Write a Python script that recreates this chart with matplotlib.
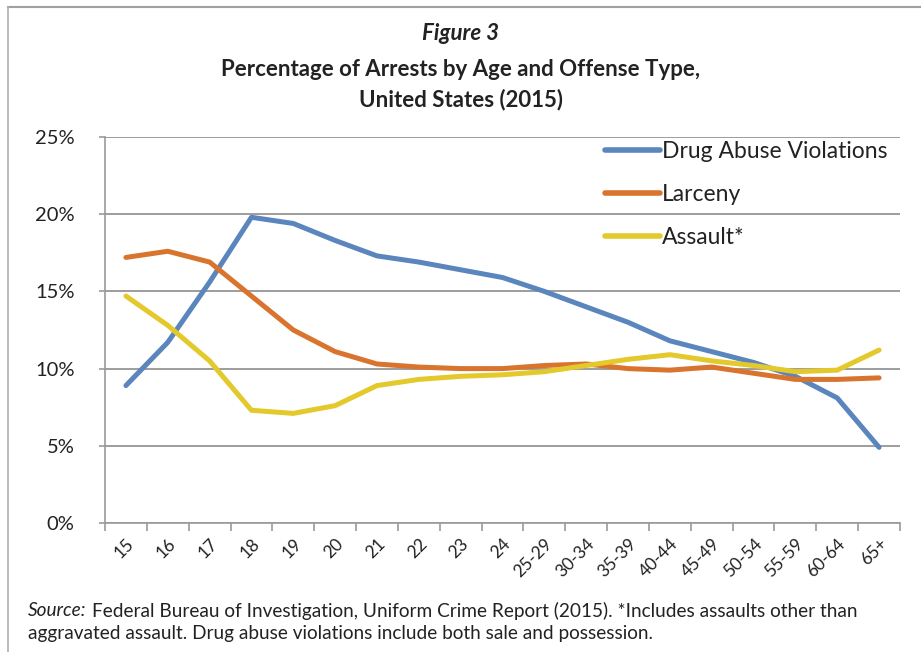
import matplotlib
matplotlib.use("Agg")
import matplotlib.pyplot as plt
from matplotlib.ticker import FuncFormatter, FixedLocator
from matplotlib.lines import Line2D

plt.rcParams['font.family'] = ['Lato', 'DejaVu Sans']

categories = ["15", "16", "17", "18", "19", "20", "21", "22", "23", "24",
              "25-29", "30-34", "35-39", "40-44", "45-49", "50-54", "55-59", "60-64", "65+"]
drug = [8.9, 11.7, 15.6, 19.8, 19.4, 18.3, 17.3, 16.9, 16.4, 15.9,
        15.0, 14.0, 13.0, 11.8, 11.1, 10.4, 9.5, 8.1, 4.9]
larceny = [17.2, 17.6, 16.9, 14.7, 12.5, 11.1, 10.3, 10.1, 10.0, 10.0,
           10.2, 10.3, 10.0, 9.9, 10.1, 9.7, 9.3, 9.3, 9.4]
assault = [14.7, 12.8, 10.5, 7.3, 7.1, 7.6, 8.9, 9.3, 9.5, 9.6,
           9.8, 10.2, 10.6, 10.9, 10.5, 10.2, 9.8, 9.9, 11.2]
series_names = ["Drug Abuse Violations", "Larceny", "Assault*"]
colors = ["#5a85bd", "#d9742e", "#e3c92c"]

fig = plt.figure(figsize=(9.21, 6.52), dpi=100)
W, H = 921, 652
ax = fig.add_axes([105 / W, 1 - 523 / H, (900 - 105) / W, (523 - 137) / H])

x = list(range(len(categories)))
for vals, name, c in zip([drug, larceny, assault], series_names, colors):
    ax.plot(x, vals, color=c, lw=3.6, label=name, solid_capstyle='round', solid_joinstyle='round')

ax.set_xlim(-0.5, len(categories) - 0.5)
ax.set_ylim(0, 25)
ax.set_yticks([0, 5, 10, 15, 20, 25])
ax.yaxis.set_major_formatter(FuncFormatter(lambda v, p: f"{int(v)}%"))
ax.grid(axis='y', color='#8c8c8c', lw=1.2)
ax.set_axisbelow(True)
ax.set_xticks(x)
ax.set_xticklabels(categories, rotation=45, ha='right', rotation_mode='anchor', fontsize=12.5, color='#222222')
ax.tick_params(axis='x', length=0, pad=9)
ax.xaxis.set_minor_locator(FixedLocator([i - 0.5 for i in range(len(categories) + 1)]))
ax.tick_params(axis='x', which='minor', length=6, color='#9a9a9a', width=1.2)
ax.tick_params(axis='y', length=4, color='#9a9a9a', width=1.2, labelsize=14.5, pad=18, labelcolor='#222222')
for s in ['top', 'right']:
    ax.spines[s].set_visible(False)
ax.spines['left'].set_color('#9a9a9a')
ax.spines['bottom'].set_color('#9a9a9a')
ax.spines['left'].set_linewidth(1.2)
ax.spines['bottom'].set_linewidth(1.2)

leg = ax.legend(loc='upper right', bbox_to_anchor=(1.0 - 3 / 795, 1.014), frameon=False, fontsize=16.5,
                handlelength=2.4, handletextpad=0.1, labelspacing=0.97, borderaxespad=0)
for t in leg.get_texts():
    t.set_color('#222222')
for h in leg.get_lines():
    h.set_linewidth(4.0)

fig.text(0.5, 1 - 33 / H, "Figure 3", ha='center', va='center', fontsize=16, style='italic',
         weight='bold', color='#222222')
fig.text(0.5, 1 - 69 / H, "Percentage of Arrests by Age and Offense Type,",
         ha='center', va='center', fontsize=16, weight='bold', color='#222222')
fig.text(0.5, 1 - 100 / H, "United States (2015)",
         ha='center', va='center', fontsize=16, weight='bold', color='#222222')

fs_src = 13.7
t1 = fig.text(28 / W, 1 - 611 / H, "Source:", ha='left', va='center', fontsize=fs_src, style='italic', color='#222222')
fig.canvas.draw()
bb = t1.get_window_extent(renderer=fig.canvas.get_renderer())
fig.text((bb.x1 + 5) / W, 1 - 611 / H,
         "Federal Bureau of Investigation, Uniform Crime Report (2015). *Includes assaults other than",
         ha='left', va='center', fontsize=fs_src, color='#222222')
fig.text(28 / W, 1 - 633 / H, "aggravated assault. Drug abuse violations include both sale and possession.",
         ha='left', va='center', fontsize=fs_src, color='#222222')

fig.add_artist(Line2D([8 / W, 1], [1 - 7 / H, 1 - 7 / H], transform=fig.transFigure, color='#a0a0a0', lw=1.5))
fig.add_artist(Line2D([8 / W, 8 / W], [0, 1 - 7 / H], transform=fig.transFigure, color='#b0b0b0', lw=1.2))

fig.savefig("out.png", dpi=100)
